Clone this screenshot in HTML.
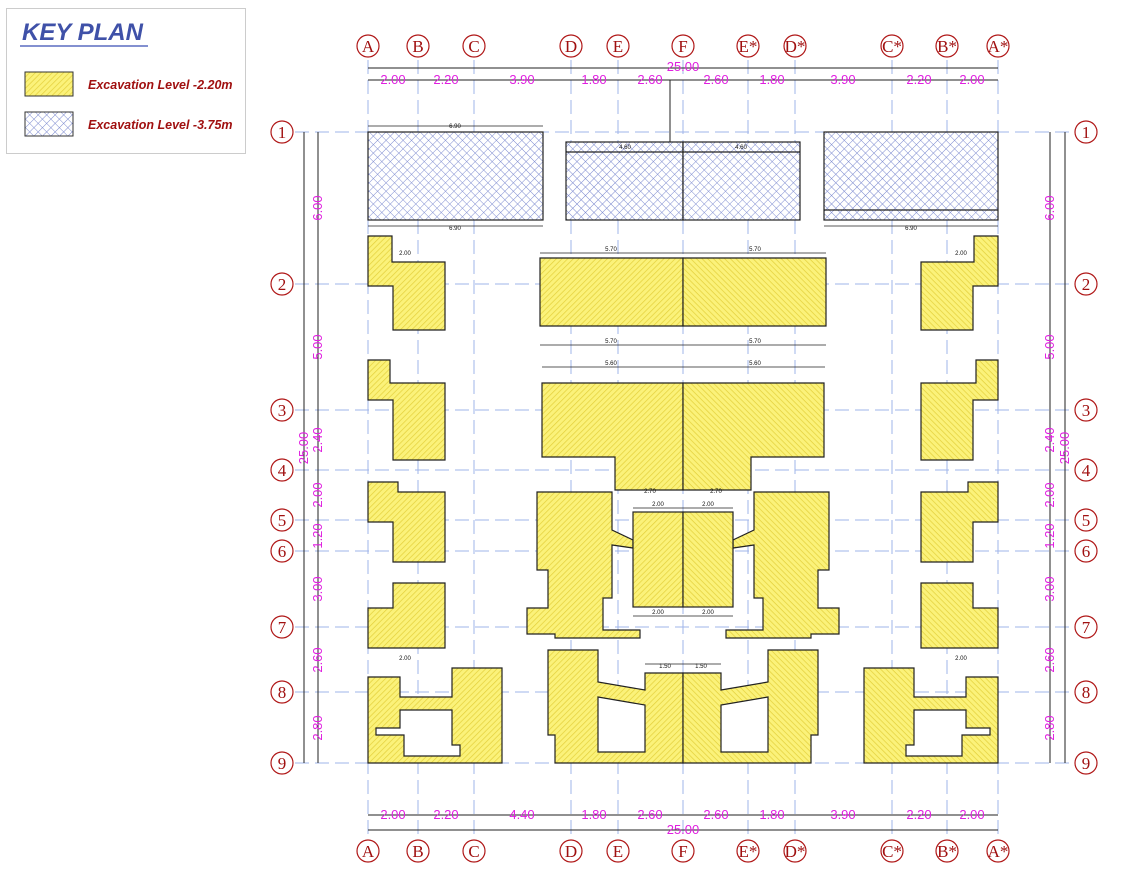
<!DOCTYPE html>
<html><head><meta charset="utf-8"><style>
html,body{margin:0;padding:0;background:#fff;}
svg{display:block;font-family:"Liberation Sans",sans-serif;}
</style></head><body>
<svg width="1137" height="879" viewBox="0 0 1137 879" xmlns="http://www.w3.org/2000/svg">
<defs>
<pattern id="yel" width="4" height="4" patternUnits="userSpaceOnUse" patternTransform="rotate(45)">
<rect width="4" height="4" fill="#fbf27a"/><line x1="0" y1="0" x2="0" y2="4" stroke="#e3cf3a" stroke-width="1.4"/>
</pattern>
<pattern id="blu" width="6" height="6" patternUnits="userSpaceOnUse" patternTransform="rotate(45)">
<rect width="6" height="6" fill="#fff"/><path d="M0 0V6M0 0H6" stroke="#7d8bd0" stroke-width="1"/>
</pattern>
</defs>

<!-- KEY PLAN -->
<rect x="6.5" y="8.5" width="239" height="145" fill="#fff" stroke="#ccc"/>
<text x="22" y="40" font-size="24" font-weight="bold" font-style="italic" fill="#3f51a8">KEY PLAN</text>
<line x1="20" y1="46" x2="148" y2="46" stroke="#5a6cc0" stroke-width="1.5"/>
<rect x="25" y="72" width="48" height="24" fill="url(#yel)" stroke="#333"/>
<rect x="25" y="112" width="48" height="24" fill="url(#blu)" stroke="#333"/>
<text x="88" y="89" font-size="12.5" font-weight="bold" font-style="italic" fill="#a01010">Excavation Level -2.20m</text>
<text x="88" y="129" font-size="12.5" font-weight="bold" font-style="italic" fill="#a01010">Excavation Level -3.75m</text>

<!-- grid lines -->
<g stroke="#9fb4ea" stroke-width="1" stroke-dasharray="14,6">
<line x1="368" y1="60" x2="368" y2="838"/><line x1="418" y1="60" x2="418" y2="838"/><line x1="474" y1="60" x2="474" y2="838"/>
<line x1="571" y1="60" x2="571" y2="838"/><line x1="618" y1="60" x2="618" y2="838"/><line x1="683" y1="60" x2="683" y2="838"/>
<line x1="748" y1="60" x2="748" y2="838"/><line x1="795" y1="60" x2="795" y2="838"/><line x1="892" y1="60" x2="892" y2="838"/>
<line x1="947" y1="60" x2="947" y2="838"/><line x1="998" y1="60" x2="998" y2="838"/>
<line x1="295" y1="132" x2="1070" y2="132"/><line x1="295" y1="284" x2="1070" y2="284"/><line x1="295" y1="410" x2="1070" y2="410"/>
<line x1="295" y1="470" x2="1070" y2="470"/><line x1="295" y1="520" x2="1070" y2="520"/><line x1="295" y1="551" x2="1070" y2="551"/>
<line x1="295" y1="627" x2="1070" y2="627"/><line x1="295" y1="692" x2="1070" y2="692"/><line x1="295" y1="763" x2="1070" y2="763"/>
</g>

<!-- bubbles -->
<g fill="#fff" stroke="#b01818" stroke-width="1.2">
<circle cx="368" cy="46" r="11"/><circle cx="418" cy="46" r="11"/><circle cx="474" cy="46" r="11"/><circle cx="571" cy="46" r="11"/><circle cx="618" cy="46" r="11"/><circle cx="683" cy="46" r="11"/><circle cx="748" cy="46" r="11"/><circle cx="795" cy="46" r="11"/><circle cx="892" cy="46" r="11"/><circle cx="947" cy="46" r="11"/><circle cx="998" cy="46" r="11"/>
<circle cx="368" cy="851" r="11"/><circle cx="418" cy="851" r="11"/><circle cx="474" cy="851" r="11"/><circle cx="571" cy="851" r="11"/><circle cx="618" cy="851" r="11"/><circle cx="683" cy="851" r="11"/><circle cx="748" cy="851" r="11"/><circle cx="795" cy="851" r="11"/><circle cx="892" cy="851" r="11"/><circle cx="947" cy="851" r="11"/><circle cx="998" cy="851" r="11"/>
<circle cx="282" cy="132" r="11"/><circle cx="282" cy="284" r="11"/><circle cx="282" cy="410" r="11"/><circle cx="282" cy="470" r="11"/><circle cx="282" cy="520" r="11"/><circle cx="282" cy="551" r="11"/><circle cx="282" cy="627" r="11"/><circle cx="282" cy="692" r="11"/><circle cx="282" cy="763" r="11"/>
<circle cx="1086" cy="132" r="11"/><circle cx="1086" cy="284" r="11"/><circle cx="1086" cy="410" r="11"/><circle cx="1086" cy="470" r="11"/><circle cx="1086" cy="520" r="11"/><circle cx="1086" cy="551" r="11"/><circle cx="1086" cy="627" r="11"/><circle cx="1086" cy="692" r="11"/><circle cx="1086" cy="763" r="11"/>
</g>
<g font-family="Liberation Serif,serif" font-size="17" fill="#a01010" text-anchor="middle">
<text x="368" y="52">A</text><text x="418" y="52">B</text><text x="474" y="52">C</text><text x="571" y="52">D</text><text x="618" y="52">E</text><text x="683" y="52">F</text><text x="748" y="52">E*</text><text x="795" y="52">D*</text><text x="892" y="52">C*</text><text x="947" y="52">B*</text><text x="998" y="52">A*</text>
<text x="368" y="857">A</text><text x="418" y="857">B</text><text x="474" y="857">C</text><text x="571" y="857">D</text><text x="618" y="857">E</text><text x="683" y="857">F</text><text x="748" y="857">E*</text><text x="795" y="857">D*</text><text x="892" y="857">C*</text><text x="947" y="857">B*</text><text x="998" y="857">A*</text>
<text x="282" y="138">1</text><text x="282" y="290">2</text><text x="282" y="416">3</text><text x="282" y="476">4</text><text x="282" y="526">5</text><text x="282" y="557">6</text><text x="282" y="633">7</text><text x="282" y="698">8</text><text x="282" y="769">9</text>
<text x="1086" y="138">1</text><text x="1086" y="290">2</text><text x="1086" y="416">3</text><text x="1086" y="476">4</text><text x="1086" y="526">5</text><text x="1086" y="557">6</text><text x="1086" y="633">7</text><text x="1086" y="698">8</text><text x="1086" y="769">9</text>
</g>

<!-- dimension lines -->
<g stroke="#222" stroke-width="1">
<line x1="368" y1="68" x2="998" y2="68"/><line x1="368" y1="80" x2="998" y2="80"/>
<line x1="368" y1="815" x2="998" y2="815"/><line x1="368" y1="830" x2="998" y2="830"/>
<line x1="304" y1="132" x2="304" y2="763"/><line x1="318" y1="132" x2="318" y2="763"/>
<line x1="1050" y1="132" x2="1050" y2="763"/><line x1="1065" y1="132" x2="1065" y2="763"/>
<line x1="670" y1="80" x2="670" y2="142"/>
</g>
<g font-size="13" fill="#e020e0" text-anchor="middle">
<text x="683" y="71" >25.00</text>
<text x="393" y="84">2.00</text><text x="446" y="84">2.20</text><text x="522" y="84">3.90</text><text x="594" y="84">1.80</text><text x="650" y="84">2.60</text><text x="716" y="84">2.60</text><text x="772" y="84">1.80</text><text x="843" y="84">3.90</text><text x="919" y="84">2.20</text><text x="972" y="84">2.00</text>
<text x="683" y="834">25.00</text>
<text x="393" y="819">2.00</text><text x="446" y="819">2.20</text><text x="522" y="819">4.40</text><text x="594" y="819">1.80</text><text x="650" y="819">2.60</text><text x="716" y="819">2.60</text><text x="772" y="819">1.80</text><text x="843" y="819">3.90</text><text x="919" y="819">2.20</text><text x="972" y="819">2.00</text>
<g transform="translate(322,0)">
<text transform="translate(0,208) rotate(-90)">6.00</text><text transform="translate(0,347) rotate(-90)">5.00</text><text transform="translate(0,440) rotate(-90)">2.40</text><text transform="translate(0,495) rotate(-90)">2.00</text><text transform="translate(0,536) rotate(-90)">1.20</text><text transform="translate(0,589) rotate(-90)">3.00</text><text transform="translate(0,660) rotate(-90)">2.60</text><text transform="translate(0,728) rotate(-90)">2.80</text>
</g>
<text transform="translate(308,448) rotate(-90)">25.00</text>
<g transform="translate(1054,0)">
<text transform="translate(0,208) rotate(-90)">6.00</text><text transform="translate(0,347) rotate(-90)">5.00</text><text transform="translate(0,440) rotate(-90)">2.40</text><text transform="translate(0,495) rotate(-90)">2.00</text><text transform="translate(0,536) rotate(-90)">1.20</text><text transform="translate(0,589) rotate(-90)">3.00</text><text transform="translate(0,660) rotate(-90)">2.60</text><text transform="translate(0,728) rotate(-90)">2.80</text>
</g>
<text transform="translate(1069,448) rotate(-90)">25.00</text>
</g>

<!-- blue boxes -->
<g stroke="#222" stroke-width="1.2" fill="url(#blu)">
<rect x="368" y="132" width="175" height="88"/>
<rect x="566" y="142" width="117" height="78"/><rect x="683" y="142" width="117" height="78"/>
<line x1="566" y1="152" x2="800" y2="152" fill="none"/>
<rect x="824" y="132" width="174" height="88"/>
<line x1="824" y1="210" x2="998" y2="210"/>
</g>

<!-- yellow shapes: left half (mirrored for right) -->
<g id="half" stroke="#222" stroke-width="1.2" fill="url(#yel)">
<polygon points="368,236 392,236 392,262 445,262 445,330 393,330 393,286 368,286"/>
<polygon points="368,360 390,360 390,383 445,383 445,460 393,460 393,400 368,400"/>
<polygon points="368,482 398,482 398,492 445,492 445,562 393,562 393,522 368,522"/>
<polygon points="393,583 445,583 445,648 368,648 368,608 393,608"/>
<polygon points="368,677 400,677 400,697 452,697 452,668 502,668 502,763 368,763"/>
<polygon points="400,710 452,710 452,745 460,745 460,756 404,756 404,735 376,735 376,728 400,728" fill="#fff"/>
<polygon points="540,258 683,258 683,326 540,326"/>
<polygon points="542,383 683,383 683,490 615,490 615,457 542,457"/>
<polygon points="537,492 612,492 612,530 633,540 633,548 612,545 612,598 603,598 603,630 640,630 640,638 555,638 555,634 527,634 527,608 548,608 548,570 537,570"/>
<rect x="633" y="512" width="50" height="95"/>
<polygon points="548,650 598,650 598,682 645,690 645,673 683,673 683,763 555,763 555,735 548,735"/>
<polygon points="598,697 645,705 645,752 598,752" fill="#fff"/>
</g>
<use href="#half" transform="translate(1366,0) scale(-1,1)"/>

<!-- small dimension texts (approximate) -->
<g font-size="6" fill="#111" text-anchor="middle">
<text x="455" y="128">6.90</text><text x="455" y="230">6.90</text><text x="911" y="230">6.90</text>
<text x="625" y="149">4.60</text><text x="741" y="149">4.60</text>
<text x="611" y="251">5.70</text><text x="755" y="251">5.70</text><text x="611" y="343">5.70</text><text x="755" y="343">5.70</text>
<text x="611" y="365">5.60</text><text x="755" y="365">5.60</text>
<text x="650" y="493">2.70</text><text x="716" y="493">2.70</text>
<text x="658" y="506">2.00</text><text x="708" y="506">2.00</text>
<text x="658" y="614">2.00</text><text x="708" y="614">2.00</text>
<text x="665" y="668">1.50</text><text x="701" y="668">1.50</text>
<text x="405" y="255">2.00</text><text x="961" y="255">2.00</text>
<text x="405" y="660">2.00</text><text x="961" y="660">2.00</text>
</g>
<g stroke="#222" stroke-width="0.8">
<line x1="540" y1="253" x2="826" y2="253"/><line x1="540" y1="345" x2="826" y2="345"/>
<line x1="542" y1="367" x2="825" y2="367"/><line x1="633" y1="508" x2="733" y2="508"/>
<line x1="633" y1="616" x2="733" y2="616"/><line x1="368" y1="126" x2="543" y2="126"/>
<line x1="368" y1="226" x2="543" y2="226"/><line x1="824" y1="226" x2="998" y2="226"/>
<line x1="645" y1="664" x2="721" y2="664"/>
</g>
</svg>
</body></html>
